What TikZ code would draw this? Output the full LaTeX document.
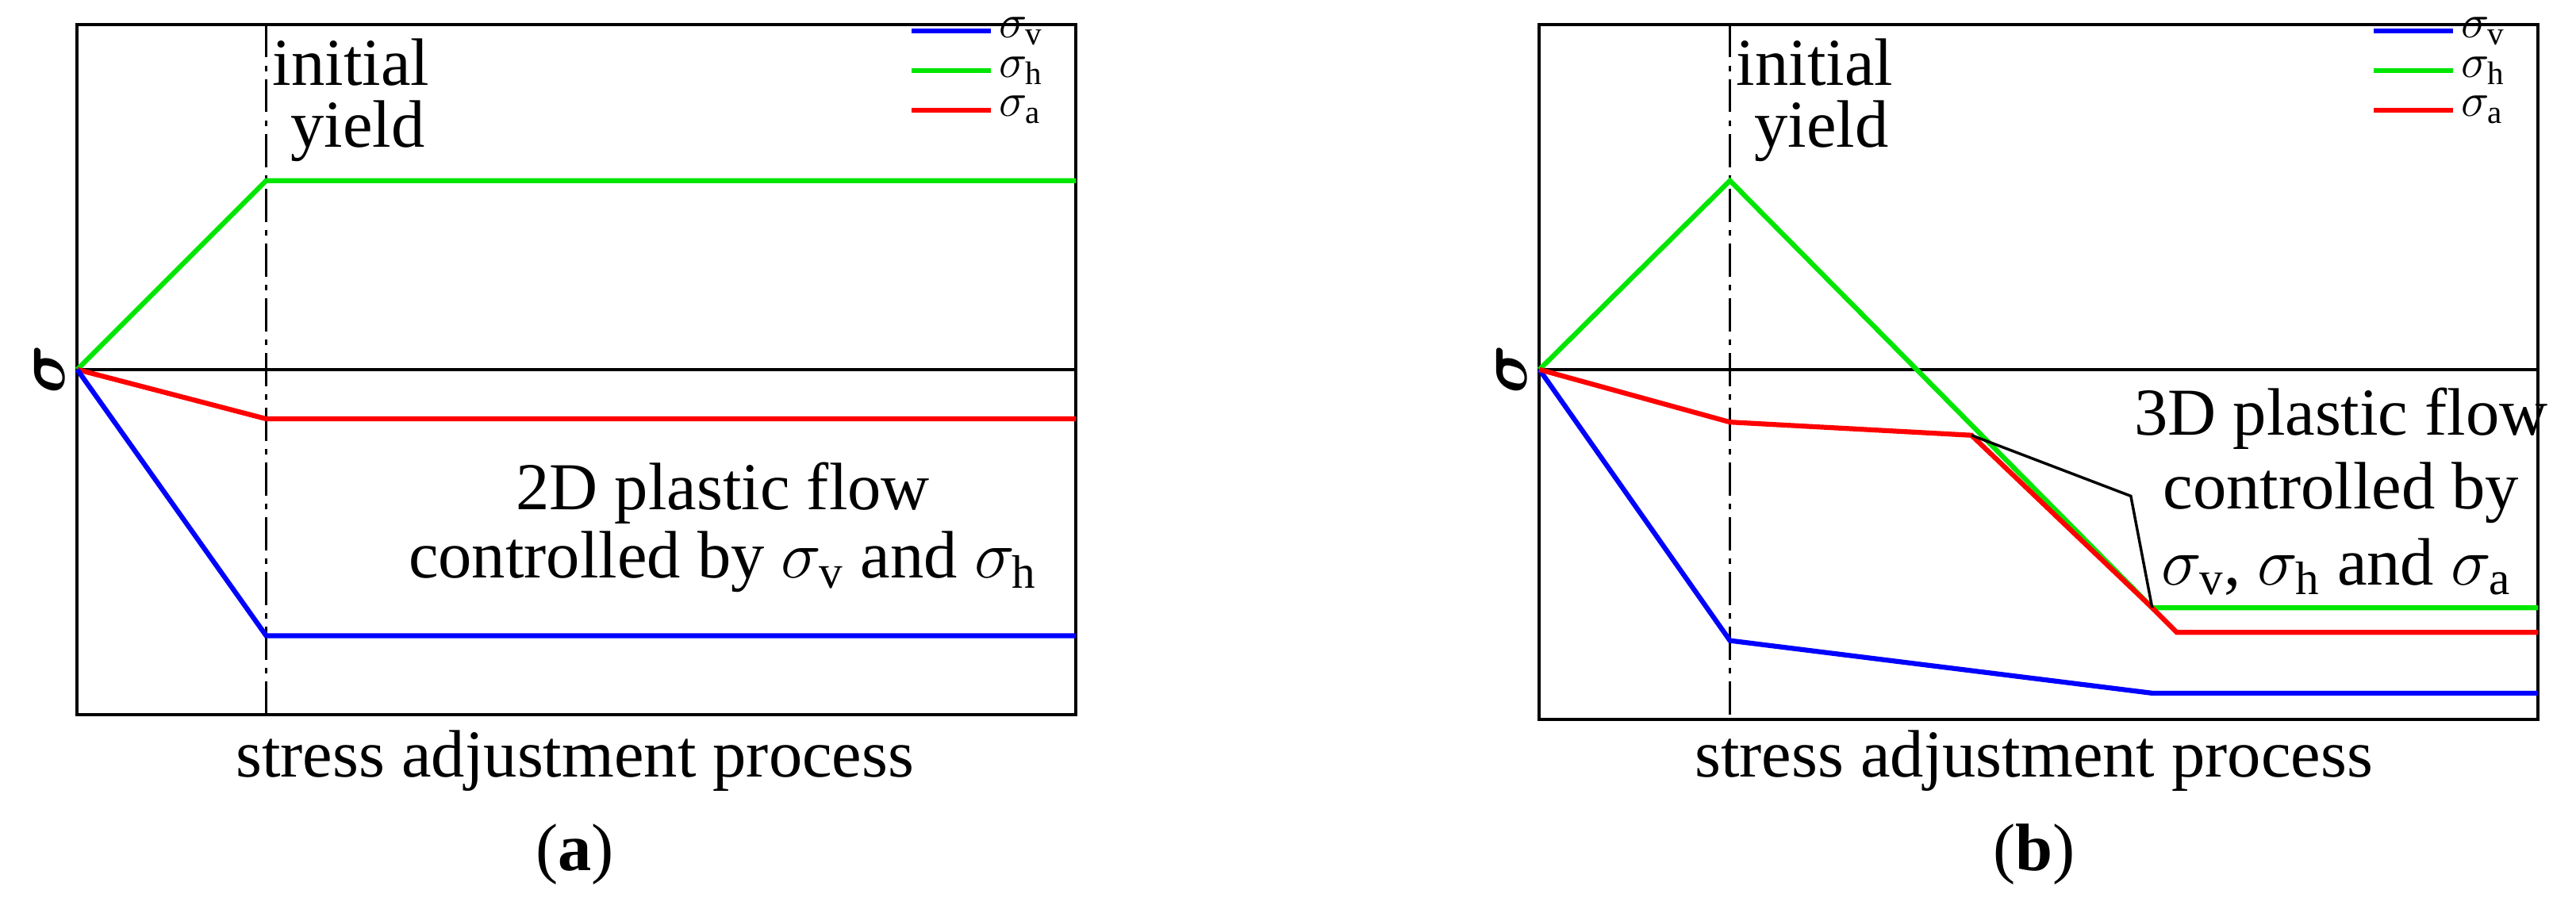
\documentclass[tikz,border=0pt]{standalone}
\usepackage{amsmath,bm}
\usepackage{fontspec}
\setmainfont{Liberation Serif}
\begin{document}
\begin{tikzpicture}[x=0.6pt,y=-0.6pt,
 ax/.style={line width=1.2pt},
 cv/.style={line width=1.8pt},
 dd/.style={line width=0.9pt,dash pattern=on 12pt off 3pt on 2pt off 3pt},
 big/.style={font=\fontsize{24.5}{26}\selectfont,inner sep=1pt},
 leg/.style={font=\fontsize{17}{18}\selectfont,anchor=west,inner sep=1pt}]
\useasboundingbox (0,0) rectangle (1568,553);
\definecolor{gr}{RGB}{0,230,0}
% panel a
\draw[ax] (47,15) rectangle (655,435);
\draw[ax] (47,225) -- (655,225);
\draw[dd] (162,15) -- (162,435);
\coordinate (a0) at (47,225);
\draw[cv,gr] (a0) -- (162,110) -- (655,110);
\draw[cv,red] (a0) -- (162,255) -- (655,255);
\draw[cv,blue] (a0) -- (162,387) -- (655,387);
\node[big,anchor=west] (ai) at (164,38) {initial};
\node[big,anchor=west] (ay) at (175,80) {yield};
\node[big,rotate=90] (as) at (30,225) {$\bm{\sigma}$};
\node[big] (at1) at (440,300) {2D plastic flow};
\node[big] (at2) at (440,342) {controlled by $\sigma_{\mathrm v}$ and $\sigma_{\mathrm h}$};
\node[big] (ax) at (350,463) {stress adjustment process};
\node[big] (al) at (350,520) {(\textbf{a})};
\foreach \c/\yy/\s in {blue/19/v,gr/43/h,red/67/a}{
 \draw[cv,\c] (555,\yy) -- (603,\yy);
 \node[leg] at (606,\yy) {$\sigma_{\mathrm\s}$};}
% panel b
\draw[ax] (937,15) rectangle (1545,438);
\draw[ax] (937,225) -- (1545,225);
\draw[dd] (1053,15) -- (1053,438);
\coordinate (b0) at (937,225);
\coordinate (bj) at (1200,265);
\coordinate (bk) at (1310,370);
\draw[cv,gr] (b0) -- (1053,110) -- (bk) -- (1545,370);
\draw[cv,blue] (b0) -- (1053,390) -- (1310,422) -- (1545,422);
\draw[cv,red] (b0) -- (1053,257) -- (bj) -- (bk) -- (1325,385) -- (1545,385);
\coordinate (bm) at (1297,302);
\draw[line width=1pt] (bj) -- (bm) -- (bk);
\node[big,anchor=west] (bi) at (1055,38) {initial};
\node[big,anchor=west] (by) at (1066,80) {yield};
\node[big,rotate=90] (bs) at (920,225) {$\bm{\sigma}$};
\node[big] (bt1) at (1425,255) {3D plastic flow};
\node[big] (bt2) at (1425,300) {controlled by};
\node[big] (bt3) at (1422,345) {$\sigma_{\mathrm v}$, $\sigma_{\mathrm h}$ and $\sigma_{\mathrm a}$};
\node[big] (bx) at (1238,463) {stress adjustment process};
\node[big] (bl) at (1238,520) {(\textbf{b})};
\foreach \c/\yy/\s in {blue/19/v,gr/43/h,red/67/a}{
 \draw[cv,\c] (1445,\yy) -- (1493,\yy);
 \node[leg] at (1496,\yy) {$\sigma_{\mathrm\s}$};}
\end{tikzpicture}
\end{document}
